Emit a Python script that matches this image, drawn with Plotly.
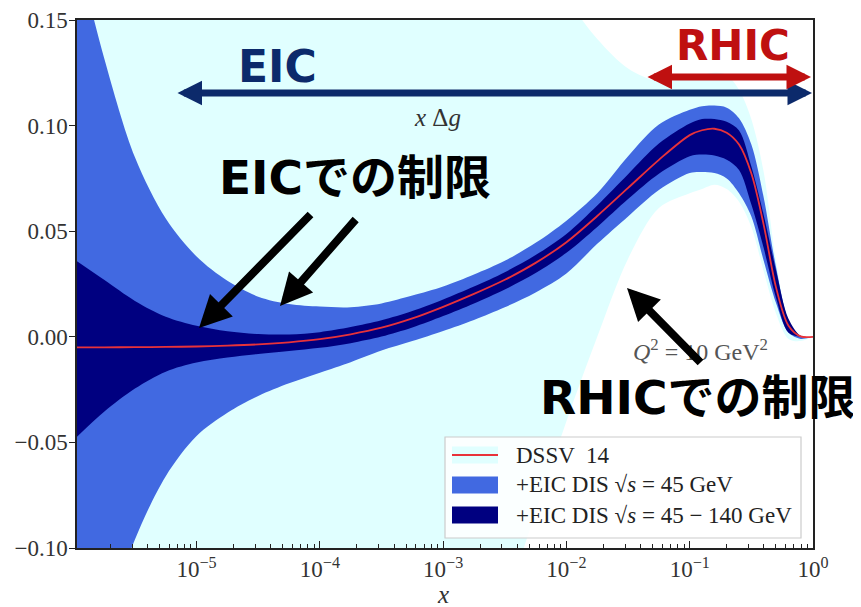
import plotly.graph_objects as go

# ---------------- data ----------------
log_x = [-6.0, -5.75, -5.5, -5.25, -5.0, -4.75, -4.5, -4.25, -4.0, -3.75, -3.5, -3.25,
         -3.0, -2.75, -2.5, -2.25, -2.0, -1.75, -1.5, -1.25, -1.0, -0.9, -0.8, -0.7,
         -0.6, -0.5, -0.4, -0.3, -0.2, -0.1, 0.0]

dssv_central = [-0.0050, -0.0050, -0.0049, -0.0048, -0.0046, -0.0042, -0.0036, -0.0026,
                -0.0011, 0.0012, 0.0043, 0.0087, 0.0142, 0.0203, 0.0270, 0.0350, 0.0448,
                0.0572, 0.0705, 0.0838, 0.0955, 0.0978, 0.0985, 0.0966, 0.0910, 0.0773,
                0.0530, 0.0234, 0.0054, 0.0002, 0.0000]

dssv_upper = [0.60, 0.55, 0.50, 0.46, 0.42, 0.39, 0.36, 0.335, 0.31, 0.29, 0.27, 0.25,
              0.23, 0.212, 0.195, 0.178, 0.160, 0.141, 0.127, 0.121, 0.123, 0.124, 0.125,
              0.124, 0.117, 0.103, 0.078, 0.036, 0.008, 0.0, 0.0]
dssv_lower = [-0.60, -0.55, -0.50, -0.46, -0.42, -0.385, -0.35, -0.32, -0.29, -0.26,
              -0.235, -0.205, -0.18, -0.152, -0.125, -0.083, -0.040, 0.000, 0.037, 0.061,
              0.068, 0.070, 0.072, 0.070, 0.064, 0.052, 0.031, 0.011, -0.001, -0.002, 0.0]

eic45_upper = [0.19, 0.132, 0.085, 0.056, 0.038, 0.0265, 0.019, 0.0155, 0.0143, 0.0140,
               0.0158, 0.0195, 0.0238, 0.0295, 0.036, 0.0445, 0.055, 0.068, 0.0855,
               0.1005, 0.1075, 0.1092, 0.1095, 0.1085, 0.1035, 0.091, 0.066, 0.033,
               0.008, 0.0, 0.0]
eic45_lower = [-0.19, -0.14, -0.096, -0.066, -0.047, -0.036, -0.028, -0.022, -0.017,
               -0.012, -0.0065, -0.002, 0.0028, 0.008, 0.014, 0.021, 0.030, 0.044, 0.057,
               0.0695, 0.0775, 0.078, 0.0775, 0.075, 0.068, 0.057, 0.036, 0.016, 0.002,
               -0.001, 0.0]

eic140_upper = [0.037, 0.027, 0.017, 0.0095, 0.0052, 0.0026, 0.0013, 0.0011, 0.0022,
                0.0046, 0.0078, 0.0122, 0.0177, 0.0238, 0.0306, 0.0387, 0.0487, 0.0622,
                0.0770, 0.0915, 0.1010, 0.1031, 0.1031, 0.1018, 0.0977, 0.0806, 0.0577,
                0.0315, 0.0087, 0.0005, 0.0]
eic140_lower = [-0.049, -0.0355, -0.0245, -0.0165, -0.0122, -0.0098, -0.0081, -0.0067,
                -0.0052, -0.0030, 0.0001, 0.0044, 0.0098, 0.0158, 0.0224, 0.0302, 0.0398,
                0.0520, 0.0652, 0.0772, 0.0855, 0.0863, 0.0858, 0.0838, 0.0790, 0.0626,
                0.0420, 0.0185, 0.0020, 0.0, 0.0]

y_tick_vals = [-0.10, -0.05, 0.00, 0.05, 0.10, 0.15]
y_tick_text = ["\u22120.10", "\u22120.05", "0.00", "0.05", "0.10", "0.15"]
x_tick_vals = [1e-5, 1e-4, 1e-3, 1e-2, 1e-1, 1e0]
x_tick_text = ["10<sup>\u22125</sup>", "10<sup>\u22124</sup>", "10<sup>\u22123</sup>",
               "10<sup>\u22122</sup>", "10<sup>\u22121</sup>", "10<sup>0</sup>"]

legend_labels = ["DSSV  14",
                 "+EIC DIS \u221a<i>s</i> = 45 GeV",
                 "+EIC DIS \u221a<i>s</i> = 45 \u2212 140 GeV"]

# ---------------- styling ----------------
C_CYAN = "#e0ffff"
C_ROYAL = "#4169e1"
C_NAVY = "#000080"
C_RED = "#e8323a"
C_EIC = "#0c2a6b"
C_RHIC = "#bf1010"
SERIF = "Liberation Serif"
SANS = "DejaVu Sans, Noto Sans CJK JP"

# The page body has an 8 px margin; the figure is sized so it fills the window.
PAGE_OFF = 8
FIG_W, FIG_H = 861 - PAGE_OFF, 607 - PAGE_OFF

xs = [10 ** v for v in log_x]

fig = go.Figure()


def band(lower, upper, color):
    fig.add_trace(go.Scatter(
        x=xs + xs[::-1], y=list(upper) + list(lower)[::-1],
        fill="toself", fillcolor=color, mode="lines",
        line=dict(width=0, color=color, shape="spline", smoothing=0.9, simplify=False),
        hoverinfo="skip", showlegend=False))


band(dssv_lower, dssv_upper, C_CYAN)
band(eic45_lower, eic45_upper, C_ROYAL)
band(eic140_lower, eic140_upper, C_NAVY)
fig.add_trace(go.Scatter(x=xs, y=dssv_central, mode="lines",
                         line=dict(color=C_RED, width=1.8, shape="spline", smoothing=0.9,
                                   simplify=False),
                         hoverinfo="skip", showlegend=False))

# plot-area geometry in page pixels (for annotations / legend placement)
L, T, W, H = 77, 20, 736, 528


def P(px, py):
    return (px - L) / W, (T + H - py) / H


annotations = []


def text(px, py, s, size, color, family, bold=False):
    x, y = P(px, py)
    annotations.append(dict(x=x, y=y, xref="paper", yref="paper", text=("<b>%s</b>" % s) if bold else s,
                            showarrow=False, xanchor="center", yanchor="middle",
                            font=dict(size=size, color=color, family=family)))


def arrow(tip, tail, color, width, size, both=False):
    x, y = P(*tip)
    annotations.append(dict(x=x, y=y, xref="paper", yref="paper", text="",
                            showarrow=True, ax=tail[0] - tip[0], ay=tail[1] - tip[1],
                            axref="pixel", ayref="pixel", arrowhead=2,
                            startarrowhead=2, arrowsize=size, startarrowsize=size,
                            arrowwidth=width, arrowcolor=color, standoff=0, startstandoff=0,
                            arrowside="end+start" if both else "end"))


text(437, 117, "<i>x</i> \u0394<i>g</i>", 25, "#333", SERIF)
text(700, 350, "<i>Q</i><sup>2</sup> = 10 GeV<sup>2</sup>", 24, "#555", SERIF)
text(443, 594, "<i>x</i>", 25, "#333", SERIF)

arrow((812, 93), (176, 93), C_EIC, 7, 0.7, both=True)
arrow((811, 77), (646, 77), C_RHIC, 7, 0.7, both=True)
text(277, 66, "EIC", 44, C_EIC, SANS, bold=True)
text(733, 46, "RHIC", 42, C_RHIC, SANS, bold=True)

arrow((199, 328), (312, 213), "black", 8, 0.8)
arrow((280, 306), (357, 218), "black", 8, 0.8)
arrow((627, 288), (702, 364), "black", 8, 0.8)
text(355, 178, "EICでの制限", 47, "black", SANS, bold=True)
text(698, 398, "RHICでの制限", 47, "black", SANS, bold=True)

# ---------------- hand-made matplotlib-style legend ----------------
shapes = []
bx0, by0 = P(445, 538)
bx1, by1 = P(801, 437)
shapes.append(dict(type="rect", xref="paper", yref="paper", x0=bx0, y0=by0, x1=bx1, y1=by1,
                   line=dict(color="#cccccc", width=1.2), fillcolor="rgba(255,255,255,0.85)",
                   layer="above"))
row_y = [455, 485, 515]
patch_colors = [C_CYAN, C_ROYAL, C_NAVY]
for ry, pc, lab in zip(row_y, patch_colors, legend_labels):
    px0, py0 = P(452, ry + 8.5)
    px1, py1 = P(498, ry - 8.5)
    shapes.append(dict(type="rect", xref="paper", yref="paper", x0=px0, y0=py0, x1=px1, y1=py1,
                       line=dict(width=0), fillcolor=pc, layer="above"))
    tx, ty = P(514, ry)
    annotations.append(dict(x=tx, y=ty, xref="paper", yref="paper", text=lab, showarrow=False,
                            xanchor="left", yanchor="middle",
                            font=dict(size=23, color="#222", family=SERIF)))
lx0, ly = P(452, row_y[0])
lx1, _ = P(498, row_y[0])
shapes.append(dict(type="line", xref="paper", yref="paper", x0=lx0, y0=ly, x1=lx1, y1=ly,
                   line=dict(color=C_RED, width=2), layer="above"))

fig.update_layout(
    width=FIG_W, height=FIG_H,
    margin=dict(l=L - PAGE_OFF, r=FIG_W - (L - PAGE_OFF) - W, t=T - PAGE_OFF,
                b=FIG_H - (T - PAGE_OFF) - H),
    paper_bgcolor="white", plot_bgcolor="white",
    showlegend=False,
    annotations=annotations, shapes=shapes,
    xaxis=dict(type="log", range=[-5.97, 0], tickmode="array", tickvals=x_tick_vals,
               ticktext=x_tick_text, ticks="inside", ticklen=7, tickwidth=1.2, tickcolor="#222",
               minor=dict(ticks="inside", ticklen=4, tickwidth=1, tickcolor="#222", dtick="D1"),
               showline=True, linecolor="#222", linewidth=1.5, mirror=True, showgrid=False,
               zeroline=False, automargin=False,
               tickfont=dict(family=SERIF, size=23, color="#333")),
    yaxis=dict(range=[-0.10, 0.15], tickmode="array", tickvals=y_tick_vals, ticktext=y_tick_text,
               ticks="outside", ticklen=6, tickwidth=1.2, tickcolor="#222",
               showline=True, linecolor="#222", linewidth=1.5, mirror=True, showgrid=False,
               zeroline=False, automargin=False, ticklabelstandoff=-3,
               tickfont=dict(family=SERIF, size=23, color="#333")),
)

fig.write_html("out.html")
